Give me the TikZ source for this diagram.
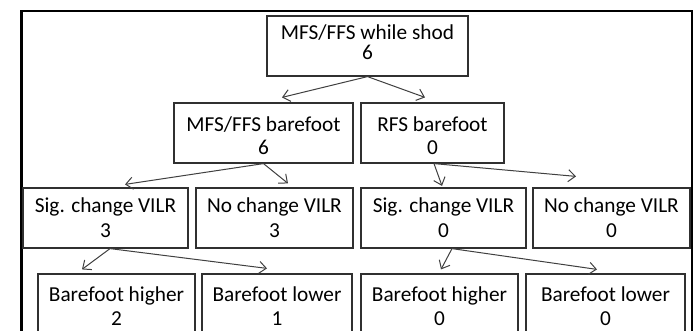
\documentclass[tikz,border=0pt]{standalone}
\usepackage{fontspec}
\setmainfont{Carlito}
\usetikzlibrary{arrows.meta,calc}
\definecolor{boxline}{HTML}{303030}
\definecolor{arrline}{HTML}{404040}
\tikzset{
  flowbox/.style={draw=boxline, line width=1.2pt, fill=white, inner sep=0pt, align=center,
    minimum height=60pt},
  boxtext/.style={inner sep=0pt, align=center},
  lsA/.style={font={\fontsize{21.3}{20}\selectfont}},
  lsB/.style={font={\fontsize{21.3}{23}\selectfont}},
  lsC/.style={font={\fontsize{21.3}{25}\selectfont}},
  lsD/.style={font={\fontsize{21.3}{24}\selectfont}},
  flowarrow/.style={draw=arrline, line width=1pt, -{Straight Barb[length=7pt,width=12pt,line width=1pt]}},
}
\begin{document}
\begin{tikzpicture}[x=1pt,y=-1pt]
\useasboundingbox (0,0) rectangle (699,330);
\fill[white] (0,0) rectangle (699,330);
\clip (0,0) rectangle (699,330);
\draw[black, line width=2.6pt] (21.5,11) rectangle (692,400);

\node[flowbox, minimum width=201pt] (top) at (367.5,46) {};
\node[boxtext, lsA] (toptext) at (367.5,42) {MFS/FFS while shod\\6};
\node[flowbox, minimum width=179pt] (b1) at (263.5,133) {};
\node[boxtext, lsB] (b1text) at (263.5,136) {MFS/FFS barefoot\\6};
\node[flowbox, minimum width=143pt] (b2) at (432.5,133) {};
\node[boxtext, lsB] (b2text) at (432.5,136) {RFS barefoot\\0};
\node[flowbox, lsC, minimum width=165pt] (c1) at (105.5,218) {Sig. change VILR\\3};
\node[flowbox, lsC, minimum width=157pt] (c2) at (274.5,218) {No change VILR\\3};
\node[flowbox, lsC, minimum width=165pt] (c3) at (443.5,218) {Sig. change VILR\\0};
\node[flowbox, lsC, minimum width=157pt] (c4) at (611.5,218) {No change VILR\\0};
\node[flowbox, lsD, minimum width=157pt, minimum height=64pt] (d1) at (116.5,306) {Barefoot higher\\2};
\node[flowbox, lsD, minimum width=150pt, minimum height=64pt] (d2) at (277,306) {Barefoot lower\\1};
\node[flowbox, lsD, minimum width=157pt, minimum height=64pt] (d3) at (439.5,306) {Barefoot higher\\0};
\node[flowbox, lsD, minimum width=159pt, minimum height=64pt] (d4) at (605.5,306) {Barefoot lower\\0};

\draw[flowarrow] (top.south) -- ($(b1.north)+(18.5,-5)$);
\draw[flowarrow] (top.south) -- ($(b2.north)+(-7.5,-5)$);
\draw[flowarrow] (b1.south) -- ($(c1.north)+(19.5,-3)$);
\draw[flowarrow] (b1.south) -- ($(c2.north)+(13.5,-4)$);
\draw[flowarrow] ($(b2.south)+(1.5,0)$) -- ($(c3.north)+(-1.5,-1.5)$);
\draw[flowarrow] ($(b2.south)+(1.5,0)$) -- ($(c4.north)+(-35.5,-11)$);
\draw[flowarrow] ($(c1.south)+(4.5,0)$) -- ($(d1.north)+(-34.5,-4)$);
\draw[flowarrow] ($(c1.south)+(4.5,0)$) -- ($(d2.north)+(-10,-5)$);
\draw[flowarrow] ($(c3.south)+(8.5,0)$) -- ($(d3.north)+(1.5,-4)$);
\draw[flowarrow] ($(c3.south)+(8.5,0)$) -- ($(d4.north)+(-8.5,-4)$);
\end{tikzpicture}
\end{document}
